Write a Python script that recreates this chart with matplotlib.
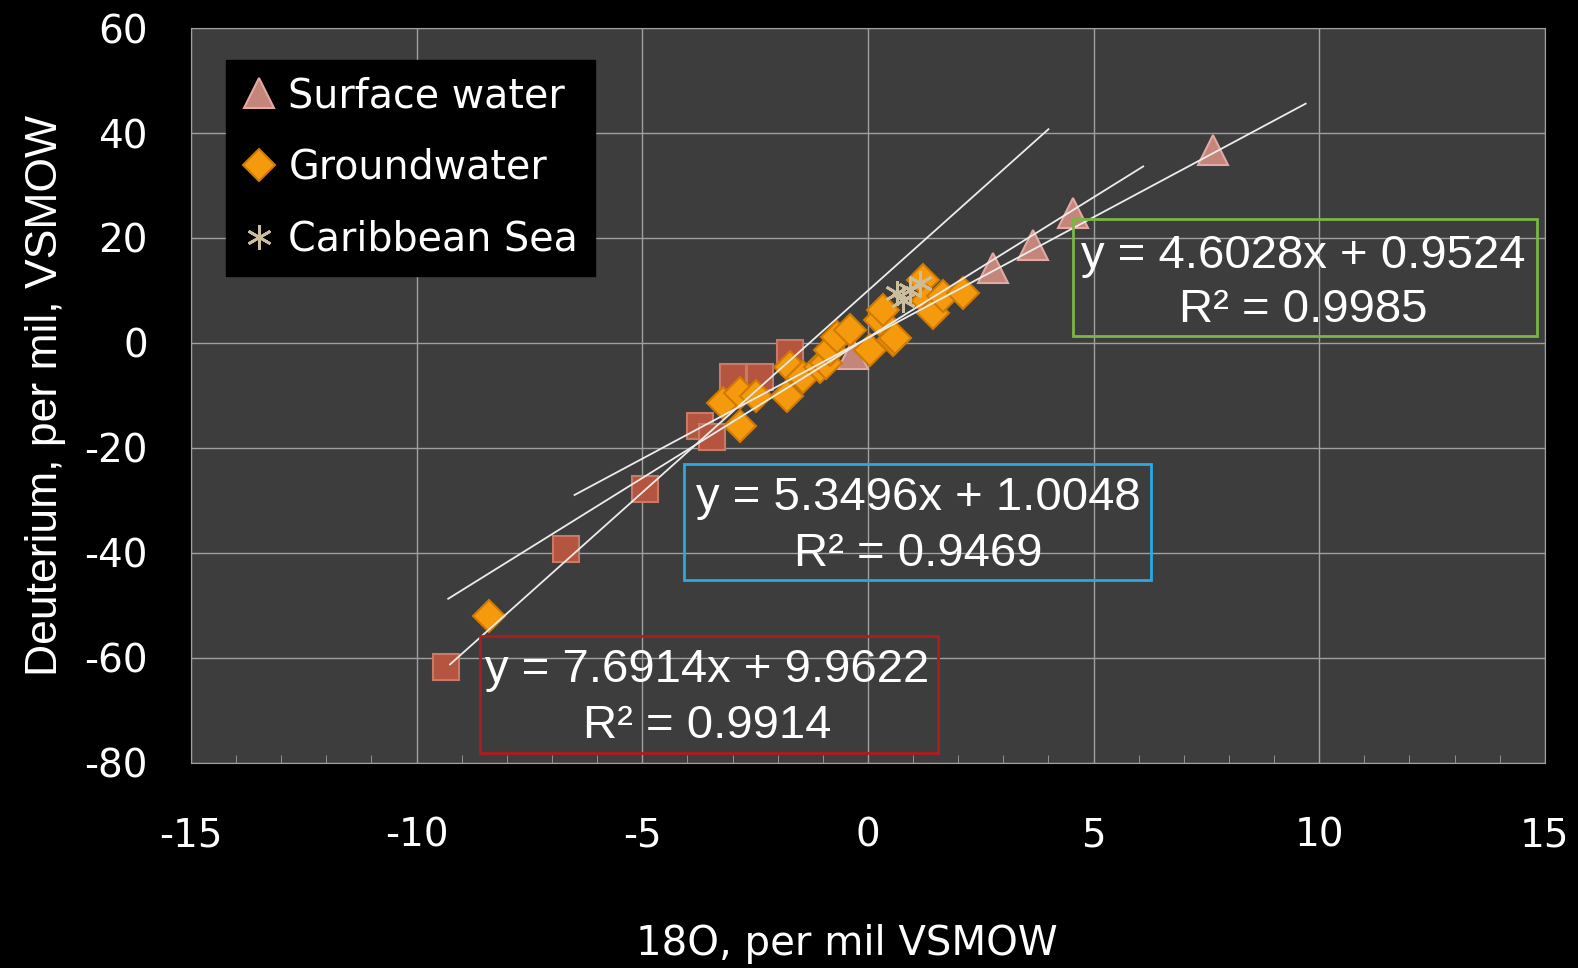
import matplotlib.pyplot as plt
import numpy as np
from matplotlib.patches import Rectangle
from matplotlib.ticker import MultipleLocator

# squares (series with no legend entry)
sq_x = [-9.35, -6.70, -4.95, -3.72, -3.45, -2.99, -2.39, -1.73]
sq_y = [-61.8, -39.3, -27.8, -15.9, -17.9, -6.4, -6.4, -1.9]

# surface water
sw_x = [-0.33, 2.78, 3.66, 4.55, 7.65]
sw_y = [-2.2, 14.3, 18.7, 24.8, 36.8]

# groundwater
gw_x = [-8.40, -3.21, -2.84, -2.84, -2.47, -1.80, -1.73, -1.44, -1.06, -0.92, -0.84,
        -0.69, -0.40, 0.04, 0.27, 0.34, 0.56, 0.60, 1.23, 1.30, 1.45, 1.67, 2.11]
gw_y = [-52.0, -11.5, -9.6, -15.9, -10.2, -10.2, -4.5, -6.4, -4.5, -3.8, -1.3,
        1.2, 2.5, -1.3, 4.4, 6.3, 0.6, 1.0, 12.0, 8.0, 5.7, 8.9, 9.5]

# caribbean sea
cs_x = [0.64, 0.78, 0.93, 1.15]
cs_y = [9.5, 8.2, 10.1, 11.4]

# trendlines: slope, intercept, r2, x range
tl_slope = [7.6914, 5.3496, 4.6028]
tl_icpt = [9.9622, 1.0048, 0.9524]
tl_r2 = [0.9914, 0.9469, 0.9985]
tl_xmin = [-9.26, -9.3, -6.5]
tl_xmax = [4.0, 6.1, 9.7]

plt.rcParams['axes.unicode_minus'] = False
geo = 'DejaVu Sans'

fig = plt.figure(figsize=(15.78, 9.68), dpi=100, facecolor='black')
ax = fig.add_axes([0.121, 0.212, 0.858, 0.759])
ax.set_facecolor('#3d3d3d')

ax.plot(sq_x, sq_y, 's', ms=19, mfc='#b5553f', mec='#c97a66', mew=1.5, zorder=3)
ax.plot(sw_x, sw_y, '^', ms=22, mfc='#c4857b', mec='#e2aaa2', mew=1.5, zorder=3,
        label='Surface water')
ax.plot(gw_x, gw_y, 'D', ms=16, mfc='#f59a0c', mec='#d07a00', mew=1.5, zorder=4,
        label='Groundwater')
ax.plot(cs_x, cs_y, marker=(6, 2, 0), ls='none', ms=18, color='#cbbd9d', mew=2,
        zorder=5, label='Caribbean Sea')

for m, b, x0, x1 in zip(tl_slope, tl_icpt, tl_xmin, tl_xmax):
    xs = np.array([x0, x1])
    ax.plot(xs, m * xs + b, color='#ececec', lw=1.3, zorder=6)

ax.set_xlim(-15, 15)
ax.set_ylim(-80, 60)
ax.xaxis.set_major_locator(MultipleLocator(5))
ax.yaxis.set_major_locator(MultipleLocator(20))
ax.xaxis.set_minor_locator(MultipleLocator(1))
ax.grid(True, color='#a0a0a0', lw=1)
ax.set_axisbelow(True)
for s in ax.spines.values():
    s.set_color('#a0a0a0')
ax.tick_params(axis='x', which='minor', direction='in', length=6, color='#a0a0a0')
ax.tick_params(axis='x', which='major', direction='in', length=0, pad=39,
               labelsize=28, labelcolor='white')
ax.tick_params(axis='y', length=0, pad=31, labelsize=28, labelcolor='white')
for lab in ax.get_xticklabels() + ax.get_yticklabels():
    lab.set_family(geo)

ax.set_xlabel('18O, per mil VSMOW', color='white', fontsize=29, family=geo, labelpad=50)
ax.xaxis.label.set_x(0.4845)
ax.set_ylabel('Deuterium, per mil, VSMOW', color='white', fontsize=32,
              family='Liberation Sans', labelpad=13)

leg = ax.legend(loc='upper left', bbox_to_anchor=(0.026, 0.957), borderaxespad=0,
                frameon=True, fancybox=False, facecolor='black', edgecolor='black',
                framealpha=1, handlelength=0.8, handletextpad=0.35,
                labelspacing=0.8, borderpad=0.42, prop={'family': geo, 'size': 28.5})
for t in leg.get_texts():
    t.set_color('white')

# equation boxes: x0, x1, y0, y1, edge colour, text centre
boxes = [
    (-8.60, 1.55, -78.1, -55.8, '#b01c1c', -3.56, -62.4, -73.0),
    (-4.08, 6.27, -45.1, -23.0, '#29a9e0', 1.11, -29.6, -40.2),
    (4.54, 14.83, 1.4, 23.7, '#7ab648', 9.64, 16.6, 6.3),
]
for (x0, x1, y0, y1, ec, tx, ty1, ty2), m, b, r2 in zip(boxes, tl_slope, tl_icpt, tl_r2):
    ax.add_patch(Rectangle((x0, y0), x1 - x0, y1 - y0, fill=False, ec=ec, lw=2, zorder=7))
    ax.text(tx, ty1, f'y = {m:.4f}x + {b:.4f}', ha='center', va='center', color='white',
            fontsize=34, family='Liberation Sans', zorder=8)
    ax.text(tx, ty2, f'R² = {r2:.4f}', ha='center', va='center', color='white',
            fontsize=34, family='Liberation Sans', zorder=8)

fig.savefig('out.png', dpi=100, facecolor='black')
